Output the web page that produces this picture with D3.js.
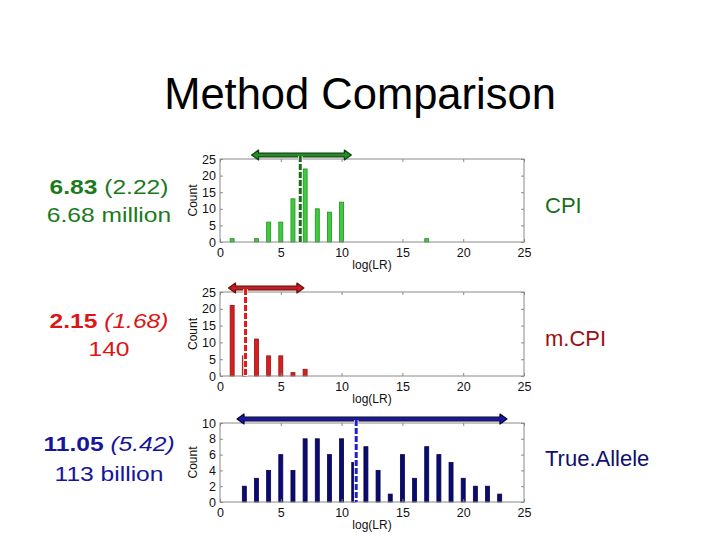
<!DOCTYPE html>
<html><head><meta charset="utf-8">
<script src="https://cdn.jsdelivr.net/npm/d3@7"></script>
<style>body{margin:0;background:#fff}svg{display:block}text{font-family:Arial,"Liberation Sans",sans-serif}</style>
</head><body><svg id="c" width="720" height="540"></svg>
<script>
// ---- data ----
const title = "Method Comparison";
const methods = ["CPI", "m.CPI", "True.Allele"];
const meanVals = ["6.83", "2.15", "11.05"];
const sdVals = ["(2.22)", "(1.68)", "(5.42)"];
const lrText = ["6.68 million", "140", "113 billion"];
const cpiBins = [1, 3, 4, 5, 6, 7, 8, 9, 10, 17];
const cpiCounts = [1, 1, 6, 6, 13, 22, 10, 9, 12, 1];
const mcpiBins = [1, 2, 3, 4, 5, 6, 7];
const mcpiCounts = [21, 6, 11, 6, 6, 1, 2];
const taBins = [2,3,4,5,6,7,8,9,10,11,12,13,14,15,16,17,18,19,20,21,22,23];
const taCounts = [2,3,4,6,4,8,8,6,8,5,7,4,1,6,3,7,6,5,3,2,2,1];
const medianLine = [6.6, 2.1, 11.2];
const rangeLo = [2.6, 0.7, 1.4];
const rangeHi = [10.8, 6.9, 23.6];
const yMax = [25, 25, 10];
const yTicks = [[0,5,10,15,20,25],[0,5,10,15,20,25],[0,2,4,6,8,10]];
const xTicks = [0,5,10,15,20,25];

const svg = d3.select("#c");
svg.append("text").attr("x",360).attr("y",109).attr("text-anchor","middle")
  .attr("font-size",43.5).attr("fill","#000").text(title);

const styles = [
  {fill:"#3ccc3c", edge:"#1f8f1f", txt:"#1c7a1c", dash:"#1a6a1a", arrowFill:"#2a8a2a", arrowEdge:"#0b420b", italic:false, method:"#1a6e1a"},
  {fill:"#d42020", edge:"#9a1010", txt:"#dd1515", dash:"#dd1a1a", arrowFill:"#c81e1e", arrowEdge:"#6a0a0a", italic:true, method:"#9a1010"},
  {fill:"#0a0a70", edge:"#05054a", txt:"#16169a", dash:"#2222cc", arrowFill:"#1a1aa0", arrowEdge:"#05053a", italic:true, method:"#10106e"}
];
const layout = [
  {top:159,bottom:242,l1:193.5,l2:222,m:213},
  {top:292,bottom:376,l1:328,l2:356,m:346},
  {top:423,bottom:502,l1:451,l2:481,m:466}
];
const bins = [cpiBins, mcpiBins, taBins];
const counts = [cpiCounts, mcpiCounts, taCounts];
const left = 220, right = 524;
const x = d3.scaleLinear().domain([0,25]).range([left,right]);

layout.forEach((L,i)=>{
  const st = styles[i];
  const y = d3.scaleLinear().domain([0,yMax[i]]).range([L.bottom,L.top]);
  const g = svg.append("g");
  const bw = 0.33*(x(1)-x(0));
  g.selectAll("rect.bar").data(bins[i].map((b,j)=>({b,c:counts[i][j]}))).enter()
    .append("rect").attr("x",d=>x(d.b)-bw/2).attr("y",d=>y(d.c))
    .attr("width",bw).attr("height",d=>y(0)-y(d.c))
    .attr("fill",st.fill).attr("stroke",st.edge).attr("stroke-width",0.8);
  g.append("rect").attr("x",left).attr("y",L.top).attr("width",right-left).attr("height",L.bottom-L.top)
    .attr("fill","none").attr("stroke","#8a8a8a").attr("stroke-width",1);
  const gx = g.append("g").attr("transform",`translate(0,${L.bottom})`).call(d3.axisBottom(x).tickValues(xTicks).tickSize(-3).tickPadding(6));
  const gxt = g.append("g").attr("transform",`translate(0,${L.top})`).call(d3.axisTop(x).tickValues(xTicks).tickSize(-3).tickFormat(""));
  const gy = g.append("g").attr("transform",`translate(${left},0)`).call(d3.axisLeft(y).tickValues(yTicks[i]).tickSize(-3).tickPadding(4));
  const gyr = g.append("g").attr("transform",`translate(${right},0)`).call(d3.axisRight(y).tickValues(yTicks[i]).tickSize(-3).tickFormat(""));
  [gx,gxt,gy,gyr].forEach(a=>{
    a.select(".domain").remove();
    a.selectAll("line").attr("stroke","#8a8a8a");
    a.selectAll("text").attr("font-size",12.5).attr("fill","#111").attr("font-family","Arial, 'Liberation Sans', sans-serif");
  });
  g.append("text").attr("x",(left+right)/2).attr("y",L.bottom+27).attr("text-anchor","middle")
    .attr("font-size",12).attr("fill","#111").text("log(LR)");
  g.append("text").attr("transform",`translate(197,${(L.top+L.bottom)/2}) rotate(-90)`)
    .attr("text-anchor","middle").attr("font-size",12).attr("fill","#111").text("Count");
  // arrow
  const ay0 = L.top-4;
  const xa = x(rangeLo[i]), xb = x(rangeHi[i]);
  const h = 5, hl = 7;
  const arrowPath = `M${xa},${ay0} L${xa+hl},${ay0-h} L${xa+hl},${ay0-1.8} L${xb-hl},${ay0-1.8} L${xb-hl},${ay0-h} L${xb},${ay0} L${xb-hl},${ay0+h} L${xb-hl},${ay0+1.8} L${xa+hl},${ay0+1.8} L${xa+hl},${ay0+h} Z`;
  g.append("path").attr("d",arrowPath).attr("fill",st.arrowFill).attr("stroke",st.arrowEdge).attr("stroke-width",1.2).attr("stroke-linejoin","round");
  const xm = x(medianLine[i]);
  g.append("line").attr("x1",xm).attr("x2",xm).attr("y1",ay0+1).attr("y2",L.bottom)
    .attr("stroke","#fff").attr("stroke-width",4.5);
  g.append("line").attr("x1",xm).attr("x2",xm).attr("y1",ay0+1).attr("y2",L.bottom)
    .attr("stroke",st.dash).attr("stroke-width",3).attr("stroke-dasharray","6,2");
  // left labels (horizontally stretched like the reference)
  const t1 = svg.append("g").attr("transform",`translate(109,${L.l1}) scale(1.2,1)`)
    .append("text").attr("text-anchor","middle").attr("font-size",20.5).attr("fill",st.txt);
  t1.append("tspan").attr("font-weight","bold").text(meanVals[i]);
  t1.append("tspan").attr("font-style",st.italic?"italic":"normal").text(" "+sdVals[i]);
  svg.append("g").attr("transform",`translate(109,${L.l2}) scale(1.2,1)`)
    .append("text").attr("text-anchor","middle").attr("font-size",20.5).attr("fill",st.txt).text(lrText[i]);
  svg.append("text").attr("x",545).attr("y",L.m).attr("font-size",22).attr("fill",st.method).text(methods[i]);
});
</script></body></html>
